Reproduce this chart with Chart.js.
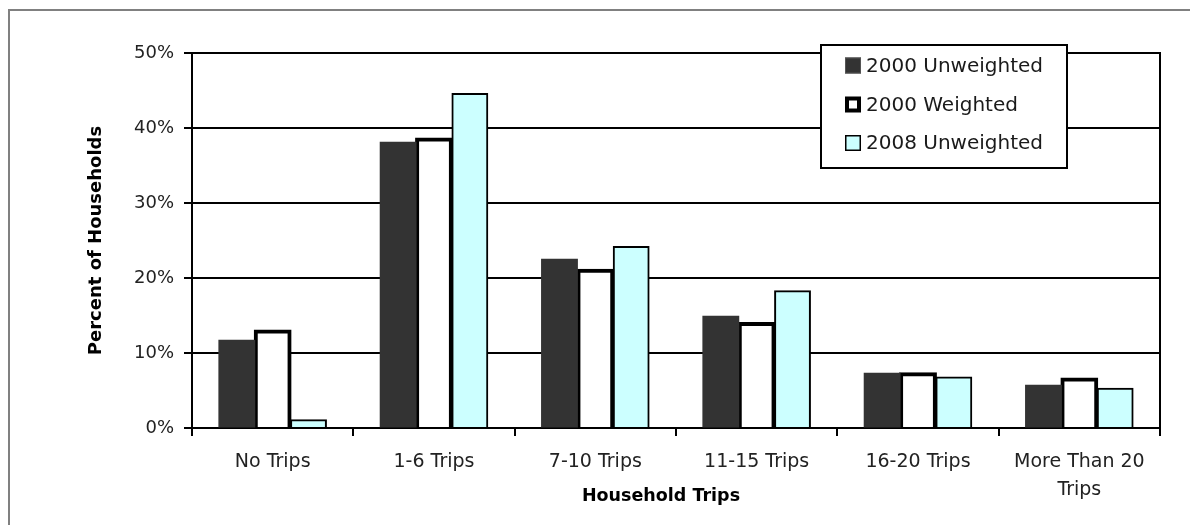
<!DOCTYPE html>
<html>
<head>
<meta charset="utf-8">
<script src="https://cdn.jsdelivr.net/npm/chart.js@4.4.1/dist/chart.umd.min.js"></script>
<style>
  html, body { margin: 0; padding: 0; background: #ffffff; }
  canvas { display: block; }
</style>
</head>
<body>
<canvas id="chart" width="1190" height="525"></canvas>
<script>
// Household trip distribution, share of households (%)
const categories = ['No Trips', '1-6 Trips', '7-10 Trips', '11-15 Trips', '16-20 Trips', ['More Than 20', 'Trips']];
const unweighted2000 = [11.7, 38.1, 22.5, 14.9, 7.3, 5.7];
const weighted2000   = [13.0, 38.6, 21.1, 14.0, 7.3, 6.6];
const unweighted2008 = [1.1, 44.6, 24.2, 18.3, 6.8, 5.3];
const yTickValues = [0, 10, 20, 30, 40, 50];

const FONT = "'DejaVu Sans', sans-serif";

// Light grey frame around the whole figure
const framePlugin = {
  id: 'frame',
  beforeDraw(chart) {
    const ctx = chart.ctx;
    ctx.save();
    ctx.fillStyle = '#ffffff';
    ctx.fillRect(0, 0, chart.width, chart.height);
    ctx.strokeStyle = '#808080';
    ctx.lineWidth = 2;
    ctx.beginPath();
    ctx.moveTo(9, chart.height + 5);
    ctx.lineTo(9, 10);
    ctx.lineTo(chart.width + 5, 10);
    ctx.stroke();
    ctx.restore();
  }
};

// The axis title sits a little left of the plot centre
const xTitleShift = -15;
const shiftTitlePlugin = {
  id: 'shiftTitle',
  afterLayout(chart) {
    const sc = chart.scales.x;
    if (sc._shiftPatched) return;
    const orig = sc.drawTitle.bind(sc);
    sc.drawTitle = function () {
      const ctx = this.ctx;
      ctx.save();
      ctx.translate(xTitleShift, 0);
      orig();
      ctx.restore();
    };
    sc._shiftPatched = true;
  }
};

// Boxed legend inside the plot, built from the datasets
const boxLegendPlugin = {
  id: 'boxLegend',
  afterDraw(chart) {
    const ctx = chart.ctx;
    const box = { x: 821, y: 45, w: 246, h: 123 };
    ctx.save();
    ctx.fillStyle = '#ffffff';
    ctx.fillRect(box.x, box.y, box.w, box.h);
    ctx.strokeStyle = '#000000';
    ctx.lineWidth = 2;
    ctx.strokeRect(box.x, box.y, box.w, box.h);
    const rows = [65.5, 104.5, 143];
    ctx.font = '20px ' + FONT;
    ctx.textBaseline = 'middle';
    ctx.textAlign = 'left';
    chart.data.datasets.forEach((ds, i) => {
      const cy = rows[i];
      const s = 16;
      const sx = 845, sy = cy - s / 2;
      ctx.fillStyle = ds.backgroundColor;
      ctx.fillRect(sx, sy, s, s);
      const bw = ds.legendBorder;
      ctx.strokeStyle = ds.legendBorderColor;
      ctx.lineWidth = bw;
      ctx.strokeRect(sx + bw / 2, sy + bw / 2, s - bw, s - bw);
      ctx.fillStyle = '#1a1a1a';
      ctx.fillText(ds.label, 866, cy + 1);
    });
    ctx.restore();
  }
};

new Chart(document.getElementById('chart'), {
  type: 'bar',
  data: {
    labels: categories,
    datasets: [
      {
        label: '2000 Unweighted',
        data: unweighted2000,
        backgroundColor: '#333333',
        borderWidth: 0,
        inflateAmount: 0.5,
        legendBorder: 1,
        legendBorderColor: '#555555'
      },
      {
        label: '2000 Weighted',
        data: weighted2000,
        backgroundColor: '#ffffff',
        borderColor: '#000000',
        borderWidth: 4,
        inflateAmount: 1,
        legendBorder: 4,
        legendBorderColor: '#000000'
      },
      {
        label: '2008 Unweighted',
        data: unweighted2008,
        backgroundColor: '#ccffff',
        borderColor: '#000000',
        borderWidth: 2,
        inflateAmount: 0.5,
        legendBorder: 1.5,
        legendBorderColor: '#000000'
      }
    ]
  },
  options: {
    responsive: false,
    animation: false,
    events: [],
    layout: { padding: { top: 53, right: 30, left: 0, bottom: 0 } },
    datasets: {
      bar: {
        categoryPercentage: 3 / 4.5,
        barPercentage: 1.0,
        borderSkipped: 'start'
      }
    },
    plugins: {
      legend: { display: false },
      tooltip: { enabled: false },
      title: { display: false }
    },
    scales: {
      x: {
        offset: true,
        grid: {
          offset: true,
          drawOnChartArea: false,
          drawTicks: true,
          tickLength: 8,
          color: '#000000',
          lineWidth: 2
        },
        border: { display: true, color: '#000000', width: 2 },
        ticks: {
          color: '#222222',
          padding: 12,
          maxRotation: 0,
          autoSkip: false,
          font: { family: FONT, size: 19, lineHeight: 1.47 }
        },
        title: {
          display: true,
          text: 'Household Trips',
          color: '#000000',
          padding: { top: 0, bottom: 18 },
          font: { family: FONT, size: 17.5, weight: 'bold', lineHeight: 1.2 }
        },
        afterFit(scale) { scale.height = 97; }
      },
      y: {
        min: 0,
        max: 50,
        afterBuildTicks(scale) { scale.ticks = yTickValues.map(v => ({ value: v })); },
        grid: {
          color: '#000000',
          lineWidth: 2,
          drawTicks: true,
          tickLength: 8
        },
        border: { display: true, color: '#000000', width: 2 },
        ticks: {
          color: '#222222',
          padding: 10,
          font: { family: FONT, size: 18 },
          callback: v => v + '%'
        },
        title: {
          display: true,
          text: 'Percent of Households',
          color: '#000000',
          padding: { top: 86, bottom: 0 },
          font: { family: FONT, size: 18, weight: 'bold', lineHeight: 1.2 }
        },
        afterFit(scale) { scale.width = 192; }
      },
      yRight: {
        position: 'right',
        min: 0,
        max: 50,
        grid: { display: false, drawTicks: false },
        border: { display: true, color: '#000000', width: 2 },
        ticks: { display: false },
        afterFit(scale) { scale.width = 0; }
      }
    }
  },
  plugins: [framePlugin, shiftTitlePlugin, boxLegendPlugin]
});
</script>
</body>
</html>
